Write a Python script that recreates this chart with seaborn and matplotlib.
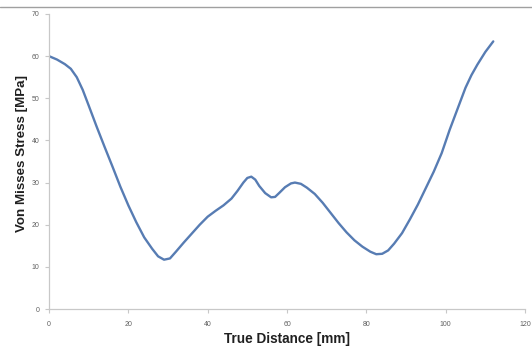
import matplotlib
matplotlib.use("Agg")
import matplotlib.pyplot as plt
import seaborn as sns
import pandas as pd
from matplotlib.lines import Line2D

distance = [0, 2, 4, 5.5, 7, 8.5, 10, 12, 14, 16, 18, 20, 22, 24, 26, 27.5, 29, 30.5, 32, 34,
            36, 38, 40, 42, 44, 46, 47.5, 49, 50, 51, 52, 53, 54.5, 56, 57, 58, 59.5, 61, 62,
            63.5, 65, 67, 69, 71, 73, 75, 77, 79, 81, 82.5, 84, 85.5, 87, 89, 91, 93, 95, 97,
            99, 101, 103, 105, 106.5, 108, 110, 112]
stress = [60, 59.2, 58.1, 57, 55, 52, 48.3, 43.3, 38.5, 33.8, 29, 24.6, 20.6, 17, 14.3, 12.5,
          11.7, 12, 13.6, 15.8, 17.9, 20, 21.9, 23.3, 24.6, 26.2, 28, 30, 31.1, 31.4, 30.7,
          29.2, 27.5, 26.5, 26.6, 27.5, 28.9, 29.8, 30, 29.7, 28.8, 27.3, 25.2, 22.8, 20.4,
          18.2, 16.3, 14.8, 13.6, 13, 13.1, 13.9, 15.5, 18, 21.3, 24.8, 28.7, 32.6, 37, 42.5,
          47.5, 52.5, 55.5, 58, 61, 63.5]
x_ticks = [0, 20, 40, 60, 80, 100, 120]
y_ticks = [0, 10, 20, 30, 40, 50, 60, 70]

sns.set_style("white")
plt.rcParams['font.family'] = ['Liberation Sans', 'DejaVu Sans']

df = pd.DataFrame({"x": distance, "y": stress})
fig = plt.figure(figsize=(5.32, 3.49), dpi=100)
ax = fig.add_axes([49/532, 1 - 309/349, (525 - 49)/532, (309 - 14)/349])
sns.lineplot(data=df, x="x", y="y", ax=ax, color="#577CB3", linewidth=1.7)
for ln in ax.get_lines():
    ln.set_solid_joinstyle("round")
    ln.set_solid_capstyle("round")

ax.set_xlim(0, 120)
ax.set_ylim(0, 70)
ax.set_xticks(x_ticks)
ax.set_yticks(y_ticks)
ax.set_xticklabels([str(t) for t in x_ticks])
ax.set_yticklabels([str(t) for t in y_ticks])
for s in ["top", "right"]:
    ax.spines[s].set_visible(False)
for s in ["left", "bottom"]:
    ax.spines[s].set_color("#C8C8C8")
    ax.spines[s].set_linewidth(0.9)
ax.tick_params(axis="both", which="major", length=3, width=0.8, color="#C8C8C8",
               labelsize=5, labelcolor="#606060", direction="out", bottom=True, left=True)
ax.tick_params(axis="x", pad=6)
ax.tick_params(axis="y", pad=4)
ax.set_xlabel("True Distance [mm]", fontsize=9.8, fontweight="bold", color="#202020",
              va="center")
ax.set_ylabel("Von Misses Stress [MPa]", fontsize=9.6, fontweight="bold", color="#202020",
              va="center")
ax.xaxis.set_label_coords(0.5, (309 - 339) / 295)
ax.yaxis.set_label_coords((22 - 49) / 476, (309 - 154) / 295)

fig.add_artist(Line2D([0.0, 1.0], [1 - 6.5/349, 1 - 6.5/349], transform=fig.transFigure,
                      color="#A0A0A0", linewidth=1.0))

fig.savefig("out.png", dpi=100)
